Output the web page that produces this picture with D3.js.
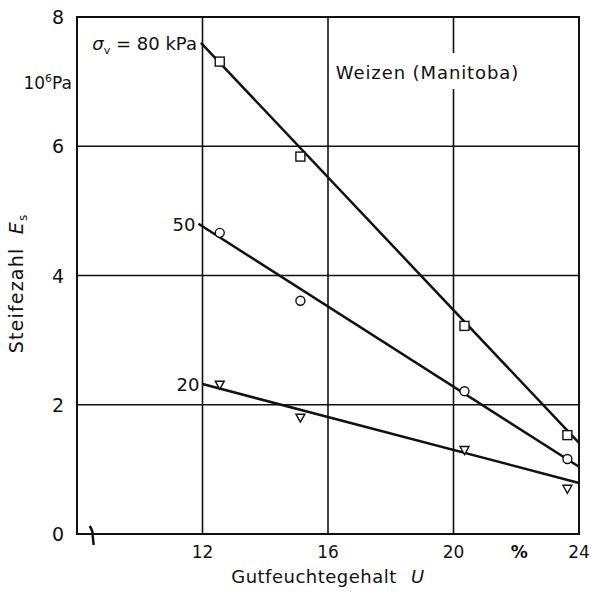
<!DOCTYPE html>
<html>
<head>
<meta charset="utf-8">
<script src="https://cdn.jsdelivr.net/npm/d3@7"></script>
<style>
  body { margin: 0; background: #fff; }
  text { font-family: "DejaVu Sans", sans-serif; fill: #111; }
</style>
</head>
<body>
<div id="chart"></div>
<script>
// data
const moisture = [12.55, 15.12, 20.35, 23.63];
const e80 = [7.31, 5.84, 3.22, 1.53];
const e50 = [4.66, 3.61, 2.21, 1.16];
const e20 = [2.31, 1.80, 1.30, 0.70];
// fitted lines drawn in the figure, [x, y] ends
const fit80 = [[11.95, 7.6], [24, 1.41]];
const fit50 = [[11.87, 4.8], [24, 1.04]];
const fit20 = [[12, 2.32], [24, 0.79]];
const xTicks = [12, 16, 20, 24];
const yTicks = [0, 2, 4, 6, 8];

const width = 591, height = 595;
const margin = { top: 17, right: 12, bottom: 61, left: 77 };
const w = width - margin.left - margin.right;
const h = height - margin.top - margin.bottom;

const svg = d3.select("#chart").append("svg")
    .attr("width", width)
    .attr("height", height)
    .append("g")
    .attr("transform", "translate(" + margin.left + "," + margin.top + ")");

const x = d3.scaleLinear().domain([8, 24]).range([0, w]);
const y = d3.scaleLinear().domain([0, 8]).range([h, 0]);

// grid
svg.append("g").selectAll("line.vg")
    .data(xTicks)
    .enter().append("line")
    .attr("x1", d => x(d)).attr("x2", d => x(d))
    .attr("y1", 0).attr("y2", h)
    .attr("stroke", "#111").attr("stroke-width", 1.6);

svg.append("g").selectAll("line.hg")
    .data(yTicks)
    .enter().append("line")
    .attr("x1", 0).attr("x2", w)
    .attr("y1", d => y(d)).attr("y2", d => y(d))
    .attr("stroke", "#111").attr("stroke-width", 1.6);

// frame
svg.append("rect")
    .attr("width", w).attr("height", h)
    .attr("fill", "none").attr("stroke", "#111").attr("stroke-width", 2);

// axis break mark
const bx = x(8.5);
svg.append("path")
    .attr("d", `M${bx - 3},${h - 8} Q${bx},${h - 3} ${bx},${h} Q${bx},${h + 3} ${bx + 1},${h + 11}`)
    .attr("fill", "none").attr("stroke", "#111").attr("stroke-width", 2.5);

// tick labels
svg.append("g").selectAll("text")
    .data(xTicks)
    .enter().append("text")
    .attr("x", d => x(d)).attr("y", h + 24)
    .attr("text-anchor", "middle")
    .style("font-size", "17px")
    .text(d => d);

svg.append("g").selectAll("text")
    .data(yTicks)
    .enter().append("text")
    .attr("x", -19).attr("y", d => y(d) + 7)
    .attr("text-anchor", "middle")
    .style("font-size", "19px")
    .text(d => d);

svg.append("text")
    .attr("x", x(22.1)).attr("y", h + 24)
    .attr("text-anchor", "middle")
    .style("font-size", "17px").style("font-weight", "bold")
    .text("%");

svg.append("text")
    .attr("x", -5).attr("y", 72)
    .attr("text-anchor", "end")
    .style("font-size", "17px")
    .html("10<tspan dy='-7' font-size='11px'>6</tspan><tspan dy='7'>Pa</tspan>");

// axis titles
svg.append("text")
    .attr("x", x(16)).attr("y", h + 49)
    .attr("text-anchor", "middle")
    .style("font-size", "18px")
    .style("letter-spacing", "0.5px")
    .html("Gutfeuchtegehalt <tspan font-style='italic' dx='8'>U</tspan>");

svg.append("text")
    .attr("transform", `translate(${-54}, ${y(4) + 8}) rotate(-90)`)
    .attr("text-anchor", "middle")
    .style("font-size", "19px")
    .style("letter-spacing", "1.2px")
    .html("Steifezahl <tspan font-style='italic' dx='6'>E</tspan><tspan font-size='12px' dy='4'>s</tspan>");

// title with the gridline gap behind it
svg.append("rect")
    .attr("x", x(19.6)).attr("y", 36)
    .attr("width", x(20.4) - x(19.6)).attr("height", 36)
    .attr("fill", "#fff");

svg.append("text")
    .attr("x", x(16.25)).attr("y", 62)
    .style("font-size", "18px")
    .style("letter-spacing", "0.9px")
    .text("Weizen (Manitoba)");

// fitted lines
const line = d3.line().x(d => x(d[0])).y(d => y(d[1]));
[fit80, fit50, fit20].forEach(f => {
    svg.append("path")
        .attr("d", line(f))
        .attr("fill", "none").attr("stroke", "#111").attr("stroke-width", 2.5);
});

// markers
const white = "#fff";
svg.append("g").selectAll("rect")
    .data(moisture)
    .enter().append("rect")
    .attr("x", (d) => x(d) - 4.5)
    .attr("y", (d, i) => y(e80[i]) - 4.5)
    .attr("width", 9).attr("height", 9)
    .attr("fill", white).attr("stroke", "#111").attr("stroke-width", 1.4);

svg.append("g").selectAll("circle")
    .data(moisture)
    .enter().append("circle")
    .attr("cx", d => x(d))
    .attr("cy", (d, i) => y(e50[i]))
    .attr("r", 4.5)
    .attr("fill", white).attr("stroke", "#111").attr("stroke-width", 1.4);

svg.append("g").selectAll("path.tri")
    .data(moisture)
    .enter().append("path")
    .attr("d", (d, i) => {
        const cx = x(d), cy = y(e20[i]);
        return `M${cx - 4.5},${cy - 3.5} L${cx + 4.5},${cy - 3.5} L${cx},${cy + 4.5} Z`;
    })
    .attr("fill", white).attr("stroke", "#111").attr("stroke-width", 1.4);

// series labels
svg.append("text")
    .attr("x", x(fit80[0][0]) - 4).attr("y", y(fit80[0][1]) + 7)
    .attr("text-anchor", "end")
    .style("font-size", "18px")
    .html("<tspan font-style='italic'>σ</tspan><tspan font-size='11px' dy='4'>v</tspan><tspan dy='-4'> = 80 kPa</tspan>");

svg.append("text")
    .attr("x", x(fit50[0][0]) - 3).attr("y", y(fit50[0][1]) + 7)
    .attr("text-anchor", "end")
    .style("font-size", "18px")
    .text("50");

svg.append("text")
    .attr("x", x(fit20[0][0]) - 3).attr("y", y(fit20[0][1]) + 7)
    .attr("text-anchor", "end")
    .style("font-size", "18px")
    .text("20");
</script>
</body>
</html>
